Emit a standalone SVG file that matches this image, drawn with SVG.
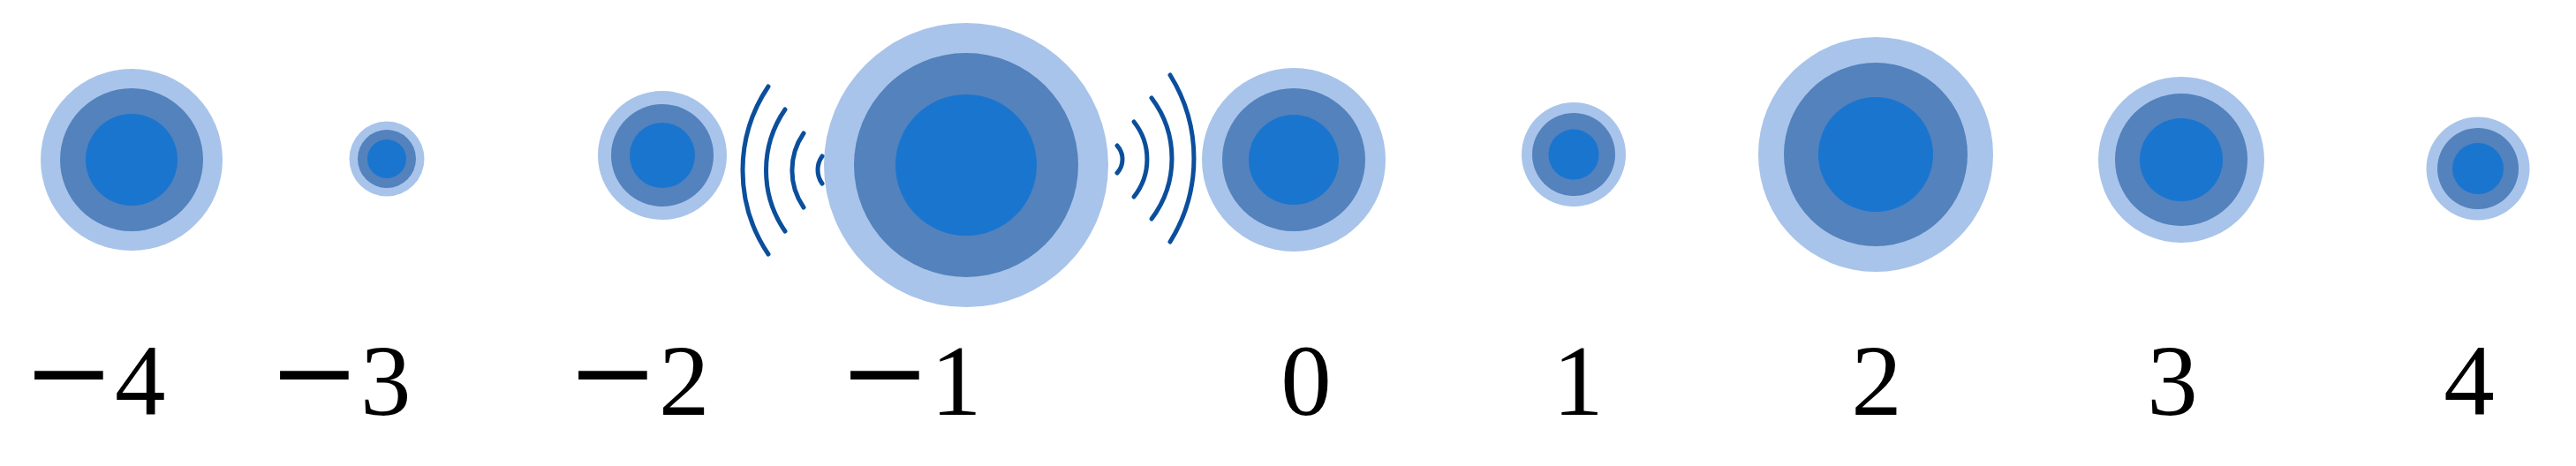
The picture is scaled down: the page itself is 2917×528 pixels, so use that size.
<svg xmlns="http://www.w3.org/2000/svg" width="2917" height="528" viewBox="0 0 2917 528">
<style>
.o{fill:#a9c4ea}
.m{fill:#5382bd}
.i{fill:#1a75cf}
.arc{fill:none;stroke:#0b4f9c;stroke-width:5;stroke-linecap:round}
.lbl{font-family:"Liberation Serif","Times New Roman",serif;font-size:115px;fill:#000}
.mn{font-family:"DejaVu Serif",serif;font-size:124px}
</style>
<rect width="2917" height="528" fill="#fff"/>
<g id="node-m4"><circle class="o" cx="149" cy="181" r="103"/><circle class="m" cx="149" cy="181" r="81"/><circle class="i" cx="149" cy="181" r="52"/></g>
<g id="node-m3"><circle class="o" cx="438" cy="180" r="42.5"/><circle class="m" cx="438" cy="180" r="33"/><circle class="i" cx="438" cy="180" r="22"/></g>
<g id="node-m2"><circle class="o" cx="750" cy="176" r="73"/><circle class="m" cx="750" cy="176" r="58"/><circle class="i" cx="750" cy="176" r="37"/></g>
<g id="node-m1"><circle class="o" cx="1094" cy="187" r="161"/><circle class="m" cx="1094" cy="187" r="127"/><circle class="i" cx="1094" cy="187" r="80"/></g>
<g id="node-0"><circle class="o" cx="1465" cy="181" r="104"/><circle class="m" cx="1465" cy="181" r="81"/><circle class="i" cx="1465" cy="181" r="51"/></g>
<g id="node-1"><circle class="o" cx="1782" cy="175" r="59"/><circle class="m" cx="1782" cy="175" r="47"/><circle class="i" cx="1782" cy="175" r="28.5"/></g>
<g id="node-2"><circle class="o" cx="2124" cy="175" r="133"/><circle class="m" cx="2124" cy="175" r="104"/><circle class="i" cx="2124" cy="175" r="65"/></g>
<g id="node-3"><circle class="o" cx="2470" cy="181" r="94"/><circle class="m" cx="2470" cy="181" r="75"/><circle class="i" cx="2470" cy="181" r="47"/></g>
<g id="node-4"><circle class="o" cx="2806" cy="191" r="58.5"/><circle class="m" cx="2806" cy="191" r="46"/><circle class="i" cx="2806" cy="191" r="29"/></g>
<g id="connectors">
<path class="arc" d="M870 98 A170 170 0 0 0 870 288"/>
<path class="arc" d="M889 124 A121.5 121.5 0 0 0 889 262"/>
<path class="arc" d="M910 151 A74 74 0 0 0 910 235"/>
<path class="arc" d="M931 177 A26.5 26.5 0 0 0 931 208"/>
<path class="arc" d="M1265 165 A23 23 0 0 1 1265 196"/>
<path class="arc" d="M1284 138 A68 68 0 0 1 1284 223"/>
<path class="arc" d="M1304 111 A113.5 113.5 0 0 1 1304 248"/>
<path class="arc" d="M1325 85 A179 179 0 0 1 1325 274"/>
</g>
<g id="labels">
<text class="lbl" x="26" y="470"><tspan class="mn" baseline-shift="6">−</tspan>4</text>
<text class="lbl" x="304" y="470"><tspan class="mn" baseline-shift="6">−</tspan>3</text>
<text class="lbl" x="642" y="470"><tspan class="mn" baseline-shift="6">−</tspan>2</text>
<text class="lbl" x="950" y="470"><tspan class="mn" baseline-shift="6">−</tspan>1</text>
<text class="lbl" x="1479" y="470" text-anchor="middle">0</text>
<text class="lbl" x="1787" y="470" text-anchor="middle">1</text>
<text class="lbl" x="2125" y="470" text-anchor="middle">2</text>
<text class="lbl" x="2460" y="470" text-anchor="middle">3</text>
<text class="lbl" x="2796" y="470" text-anchor="middle">4</text>
</g>
</svg>
